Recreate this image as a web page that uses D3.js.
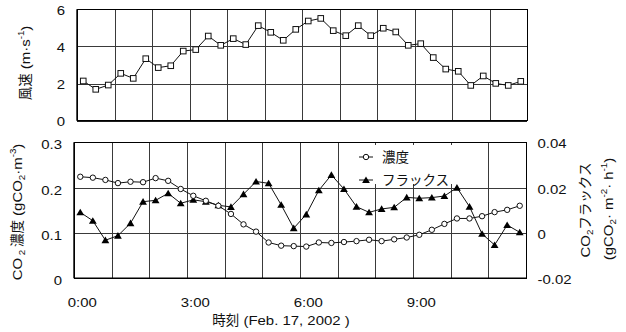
<!DOCTYPE html>
<html>
<head>
<meta charset="utf-8">
<script src="https://cdn.jsdelivr.net/npm/d3@7"></script>
<style>
  html, body { margin: 0; padding: 0; background: #fff; }
  svg { display: block; }
</style>
</head>
<body>
<div id="chart"></div>
<script>
// Time stamps (20-minute steps) on the shared category axis
const times = [
  "0:00","0:20","0:40","1:00","1:20","1:40","2:00","2:20","2:40",
  "3:00","3:20","3:40","4:00","4:20","4:40","5:00","5:20","5:40",
  "6:00","6:20","6:40","7:00","7:20","7:40","8:00","8:20","8:40",
  "9:00","9:20","9:40","10:00","10:20","10:40","11:00","11:20","11:40"
];
const timeTicks = ["0:00", "3:00", "6:00", "9:00"];

// Wind speed (m/s)
const windSpeed = [
  2.14, 1.69, 1.92, 2.55, 2.28, 3.34, 2.86, 2.96, 3.75,
  3.83, 4.56, 4.06, 4.42, 4.10, 5.12, 4.76, 4.33, 4.92,
  5.37, 5.51, 4.85, 4.58, 5.12, 4.58, 4.98, 4.78, 4.06,
  4.15, 3.40, 2.78, 2.66, 1.90, 2.41, 2.01, 1.90, 2.12
];
const windTicks = [0, 2, 4, 6];

// CO2 concentration (gCO2/m3), left axis
const co2Conc = [
  0.224, 0.222, 0.217, 0.210, 0.213, 0.212, 0.221, 0.215, 0.197,
  0.182, 0.171, 0.160, 0.142, 0.119, 0.103, 0.079, 0.072, 0.071,
  0.070, 0.079, 0.078, 0.080, 0.082, 0.085, 0.082, 0.086, 0.090,
  0.096, 0.107, 0.120, 0.132, 0.132, 0.137, 0.146, 0.151, 0.160
];
const concTicks = [0, 0.1, 0.2, 0.3];

// CO2 flux (gCO2/m2/h), right axis
const co2Flux = [
  0.0091, 0.0054, -0.0032, -0.0012, 0.0043, 0.0138, 0.0144, 0.0175, 0.0131,
  0.0146, 0.0138, 0.0122, 0.0115, 0.0171, 0.0227, 0.0219, 0.0124, 0.0021,
  0.0082, 0.0188, 0.0256, 0.0194, 0.0116, 0.0091, 0.0106, 0.0113, 0.0157,
  0.0153, 0.0156, 0.0163, 0.0200, 0.0116, -0.0004, -0.0053, 0.0035, 0.0003
];
const fluxTicks = [-0.02, 0, 0.02, 0.04];

const legendNames = ["濃度", "フラックス"];

const W = 626, H = 332;
const LATIN = "'Liberation Sans', Arial, sans-serif";
const CJK = "'Noto Sans CJK JP', sans-serif";
const SX = 1.15;           // wide Latin face
const INK = "#111";
const GRID = "#3a3a3a";

const svg = d3.select("#chart").append("svg")
  .attr("width", W).attr("height", H)
  .style("background", "#fff");

// Mixed Latin / CJK text, laid out run by run; sub/superscripts included.
function richText(parent, runs, o) {
  const g = parent.append("g")
    .attr("transform", `translate(${o.x},${o.y}) rotate(${o.rotate || 0})`);
  const inner = g.append("g");
  let cursor = 0;
  runs.forEach(r => {
    const small = r.sub || r.sup;
    const fs = small ? 8.5 : (r.cjk ? (o.cjkSize || 13.5) : (o.size || 13));
    const sx = r.cjk ? 1 : SX;
    const dy = (o.dy || 0) + (r.sup ? -5.5 : r.sub ? 3 : 0);
    const t = inner.append("text")
      .attr("transform", `translate(${cursor},${dy}) scale(${sx},1)`)
      .attr("font-family", r.cjk ? CJK : LATIN)
      .attr("font-size", fs)
      .attr("fill", INK)
      .style("white-space", "pre")
      .text(r.t);
    cursor += t.node().getComputedTextLength() * sx + (r.gap || 0);
  });
  const a = o.anchor || "middle";
  const shift = a === "middle" ? -cursor / 2 : a === "end" ? -cursor : 0;
  inner.attr("transform", `translate(${shift},0)`);
  return g;
}

// ---------- Panel geometry ----------
const panelTop = { x0: 77, x1: 527, y0: 9.3, y1: 120.7 };
const panelBot = { x0: 74, x1: 526, y0: 142.3, y1: 278.3 };

const xTop = d3.scaleBand().domain(times).range([panelTop.x0, panelTop.x1]);
const xBot = d3.scaleBand().domain(times).range([panelBot.x0, panelBot.x1]);
const hourTop = d3.scaleLinear().domain([0, 12]).range([panelTop.x0, panelTop.x1]);
const hourBot = d3.scaleLinear().domain([0, 12]).range([panelBot.x0, panelBot.x1]);

const yWind = d3.scaleLinear().domain([0, 6]).range([panelTop.y1, panelTop.y0]);
const yConc = d3.scaleLinear().domain([0, 0.3]).range([panelBot.y1, panelBot.y0]);
const yFlux = d3.scaleLinear().domain([-0.02, 0.04]).range([panelBot.y1, panelBot.y0]);

function styleGrid(g) {
  g.select(".domain").remove();
  g.selectAll("line").attr("stroke", GRID).attr("stroke-width", 1)
    .attr("shape-rendering", "crispEdges");
  g.selectAll("text").remove();
}

function drawGrid(p, gridY, ticksY, hourScale) {
  const w = p.x1 - p.x0, h = p.y1 - p.y0;
  svg.append("g")
    .attr("transform", `translate(${p.x0},0)`)
    .call(d3.axisLeft(gridY).tickValues(ticksY).tickSize(-w).tickFormat(""))
    .call(styleGrid);
  svg.append("g")
    .attr("transform", `translate(0,${p.y1})`)
    .call(d3.axisBottom(hourScale).ticks(12).tickSize(-h).tickFormat(""))
    .call(styleGrid);
}

function drawFrame(p) {
  const w = p.x1 - p.x0, h = p.y1 - p.y0;
  svg.append("rect")
    .attr("x", p.x0).attr("y", p.y0).attr("width", w).attr("height", h)
    .attr("fill", "none").attr("stroke", "#000").attr("stroke-width", 1)
    .attr("shape-rendering", "crispEdges");
  svg.append("line")
    .attr("x1", p.x0).attr("x2", p.x1).attr("y1", p.y1).attr("y2", p.y1)
    .attr("stroke", "#000").attr("stroke-width", 1.6);
  svg.append("line")
    .attr("x1", p.x0).attr("x2", p.x0).attr("y1", p.y0).attr("y2", p.y1)
    .attr("stroke", "#000").attr("stroke-width", 1.4);
}

// ---------- Top panel: wind speed ----------
drawGrid(panelTop, yWind, windTicks, hourTop);
drawFrame(panelTop);

const cxTop = d => xTop(d) + xTop.bandwidth() / 2;
svg.append("path")
  .datum(windSpeed)
  .attr("fill", "none").attr("stroke", INK).attr("stroke-width", 1)
  .attr("d", d3.line().x((d, i) => cxTop(times[i])).y(d => yWind(d)));
svg.append("g").selectAll("rect").data(windSpeed).join("rect")
  .attr("x", (d, i) => cxTop(times[i]) - 2.8)
  .attr("y", d => yWind(d) - 2.8)
  .attr("width", 5.6).attr("height", 5.6)
  .attr("fill", "#fff").attr("stroke", INK).attr("stroke-width", 1);

windTicks.forEach(v => {
  richText(svg, [{ t: String(v) }], { x: 65, y: yWind(v) + 5.5, anchor: "end" });
});
richText(svg, [
  { t: "風速", cjk: true },
  { t: " (m·s" },
  { t: "-1", sup: true },
  { t: ")" }
], { x: 25, y: 63, rotate: -90, dy: 4.8 });

// ---------- Bottom panel: CO2 concentration and flux ----------
drawGrid(panelBot, yConc, concTicks, hourBot);

// legend background sits over the grid
const legend = { x: 356, y: 145, w: 100, h: 39 };
svg.append("rect")
  .attr("x", legend.x).attr("y", legend.y)
  .attr("width", legend.w).attr("height", legend.h)
  .attr("fill", "#fff");
drawFrame(panelBot);

const cxBot = d => xBot(d) + xBot.bandwidth() / 2;
const triangle = "M0,-3.6L3.9,3L-3.9,3Z";

svg.append("path")
  .datum(co2Flux)
  .attr("fill", "none").attr("stroke", INK).attr("stroke-width", 1)
  .attr("d", d3.line().x((d, i) => cxBot(times[i])).y(d => yFlux(d)));
svg.append("g").selectAll("path").data(co2Flux).join("path")
  .attr("transform", (d, i) => `translate(${cxBot(times[i])},${yFlux(d)})`)
  .attr("d", triangle).attr("fill", "#000");

svg.append("path")
  .datum(co2Conc)
  .attr("fill", "none").attr("stroke", INK).attr("stroke-width", 1)
  .attr("d", d3.line().x((d, i) => cxBot(times[i])).y(d => yConc(d)));
svg.append("g").selectAll("circle").data(co2Conc).join("circle")
  .attr("cx", (d, i) => cxBot(times[i]))
  .attr("cy", d => yConc(d))
  .attr("r", 2.7)
  .attr("fill", "#fff").attr("stroke", INK).attr("stroke-width", 1);

// legend entries
const legRows = [
  { name: legendNames[0], y: 157, mark: "circle" },
  { name: legendNames[1], y: 180, mark: "tri" }
];
legRows.forEach(r => {
  svg.append("line")
    .attr("x1", 359).attr("x2", 373).attr("y1", r.y).attr("y2", r.y)
    .attr("stroke", INK).attr("stroke-width", 1);
  if (r.mark === "circle") {
    svg.append("circle").attr("cx", 366).attr("cy", r.y).attr("r", 2.7)
      .attr("fill", "#fff").attr("stroke", INK).attr("stroke-width", 1);
  } else {
    svg.append("path").attr("transform", `translate(366,${r.y})`)
      .attr("d", triangle).attr("fill", "#000");
  }
  richText(svg, [{ t: r.name, cjk: true }],
    { x: 382, y: r.y + 5, anchor: "start", cjkSize: 13.5 });
});

// axis labels
concTicks.forEach(v => {
  richText(svg, [{ t: String(v) }], { x: 62, y: yConc(v) + 7, anchor: "end" });
});
fluxTicks.forEach(v => {
  richText(svg, [{ t: String(v) }], { x: 537.5, y: yFlux(v) + 6, anchor: "start" });
});
timeTicks.forEach(t => {
  richText(svg, [{ t }], { x: cxBot(t) + 2, y: 306.5, anchor: "middle" });
});

richText(svg, [
  { t: "時刻", cjk: true },
  { t: " (Feb. 17, 2002 )" }
], { x: 281, y: 325, anchor: "middle" });

richText(svg, [
  { t: "CO" },
  { t: " 2 ", sub: true },
  { t: "濃度", cjk: true },
  { t: " (gCO" },
  { t: "2", sub: true },
  { t: "·m" },
  { t: "-3", sup: true },
  { t: ")" }
], { x: 17, y: 212, rotate: -90, dy: 4.8 });

richText(svg, [
  { t: "CO" },
  { t: "2", sub: true },
  { t: "フラックス", cjk: true }
], { x: 585, y: 210, rotate: -90, dy: 4.8 });

richText(svg, [
  { t: "(gCO" },
  { t: "2", sub: true },
  { t: "· m" },
  { t: "-2", sup: true },
  { t: "· h" },
  { t: "-1", sup: true },
  { t: ")" }
], { x: 608, y: 209, rotate: -90, dy: 4.8 });
</script>
</body>
</html>
